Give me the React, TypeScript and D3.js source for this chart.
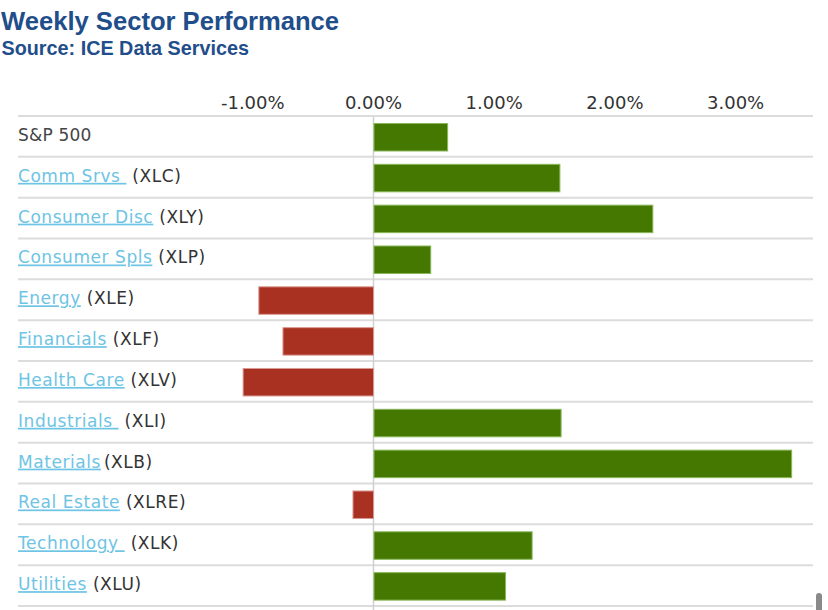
import React from "react";
import * as d3 from "d3";

const sectorNames = [
  "S&P 500",
  "Comm Srvs",
  "Consumer Disc",
  "Consumer Spls",
  "Energy",
  "Financials",
  "Health Care",
  "Industrials",
  "Materials",
  "Real Estate",
  "Technology",
  "Utilities",
];
const tickers = ["", "(XLC)", "(XLY)", "(XLP)", "(XLE)", "(XLF)", "(XLV)", "(XLI)", "(XLB)", "(XLRE)", "(XLK)", "(XLU)"];
const linkTrailingSpace = [false, true, false, false, false, false, false, true, false, false, true, false];
const gapBeforeTicker = [false, true, true, true, true, true, true, true, false, true, true, true];
const weeklyChange = [0.61, 1.54, 2.31, 0.47, -0.95, -0.75, -1.08, 1.55, 3.46, -0.17, 1.31, 1.09];
const tickValues = [-1, 0, 1, 2, 3];

const W = 828;
const H = 610;
const left = 18;
const right = 813;
const top = 116;
const rowH = 40.83;

export default function App() {
  const x = d3.scaleLinear().domain([-2.945, 3.641]).range([left, right]);
  const y = d3
    .scaleBand<number>()
    .domain(d3.range(sectorNames.length))
    .range([top, top + rowH * sectorNames.length])
    .paddingInner(0)
    .paddingOuter(0);
  const fmt = (v: number) => (d3.format(".2f")(v) + "%").replace("\u2212", "-");
  const x0 = x(0);

  return (
    <svg
      width={W}
      height={H}
      style={{ position: "absolute", left: 0, top: 0, background: "#fff" }}
    >
      <text x={1} y={30} fontFamily="'Liberation Sans', Arial, sans-serif" fontWeight="bold" fontSize={25.6} fill="#1f4e8a">
        Weekly Sector Performance
      </text>
      <text x={1.5} y={55} fontFamily="'Liberation Sans', Arial, sans-serif" fontWeight="bold" fontSize={19.8} fill="#1f4e8a">
        Source: ICE Data Services
      </text>

      {tickValues.map((t) => (
        <text
          key={t}
          x={x(t)}
          y={108.5}
          textAnchor="middle"
          fontFamily="'DejaVu Sans', Verdana, sans-serif"
          fontSize={18}
          fill="#333"
        >
          {fmt(t)}
        </text>
      ))}

      <line x1={left} x2={right} y1={top} y2={top} stroke="#dcdcdc" strokeWidth={2} />
      {sectorNames.map((_, i) => (
        <line
          key={"g" + i}
          x1={left}
          x2={right}
          y1={(y(i) as number) + rowH}
          y2={(y(i) as number) + rowH}
          stroke="#dcdcdc"
          strokeWidth={2}
        />
      ))}
      <line x1={x0} x2={x0} y1={top + 1} y2={H} stroke="#d0d0d0" strokeWidth={1.5} />

      {weeklyChange.map((v, i) => {
        const yi = y(i) as number;
        const pos = v >= 0;
        return (
          <rect
            key={"b" + i}
            x={pos ? x0 + 0.5 : x(v)}
            y={yi + 7.5}
            width={Math.abs(x(v) - x0)}
            height={27.5}
            fill={pos ? "#457800" : "#a93122"}
            stroke={pos ? "#8ab85a" : "#d99a92"}
            strokeWidth={1}
          />
        );
      })}

      {sectorNames.map((name, i) => {
        const yi = y(i) as number;
        const isIndex = tickers[i] === "";
        return (
          <text
            key={"l" + i}
            x={left}
            y={yi + 25}
            fontFamily="'DejaVu Sans', Verdana, sans-serif"
            fontSize={17}
            letterSpacing={isIndex ? 0.2 : 0.55}
            fill="#333"
            style={{ whiteSpace: "pre" }}
          >
            {isIndex ? (
              <tspan fill="#444">{name}</tspan>
            ) : (
              <>
                <tspan fill="#6ec4e4" style={{ textDecoration: "underline" }}>
                  {name + (linkTrailingSpace[i] ? " " : "")}
                </tspan>
                <tspan fill="#333" dx={gapBeforeTicker[i] ? 0 : 3}>
                  {(gapBeforeTicker[i] ? " " : "") + tickers[i]}
                </tspan>
              </>
            )}
          </text>
        );
      })}

      <rect x={816} y={593} width={6} height={20} rx={3} fill="#8a8a8a" />
    </svg>
  );
}
